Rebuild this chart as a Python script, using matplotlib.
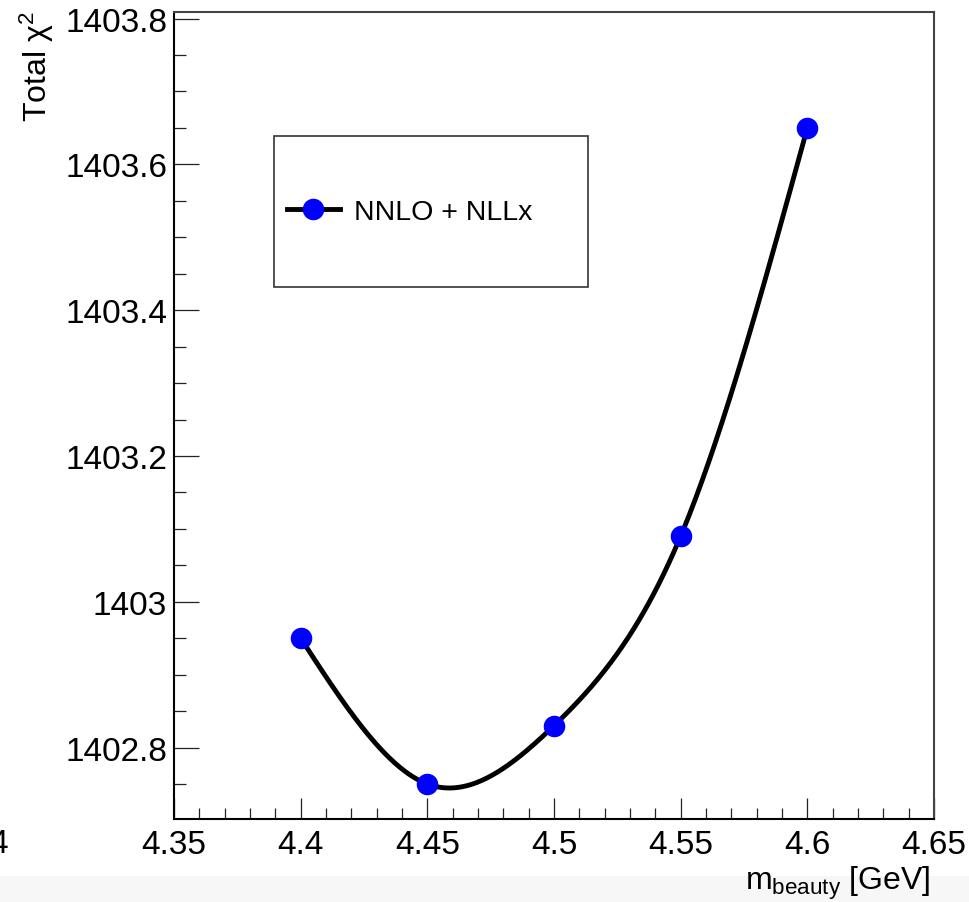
import numpy as np
import matplotlib
matplotlib.use("Agg")
import matplotlib.pyplot as plt
from matplotlib.patches import Rectangle
from matplotlib.ticker import MultipleLocator, FixedLocator

plt.rcParams['font.family'] = ['Liberation Sans', 'DejaVu Sans']
plt.rcParams['mathtext.fontset'] = 'custom'
plt.rcParams['mathtext.rm'] = 'Liberation Sans'
plt.rcParams['mathtext.it'] = 'Liberation Sans:italic'

# Scan of the beauty-quark mass and the resulting total chi^2
m_beauty = [4.40, 4.45, 4.50, 4.55, 4.60]
chi2_total = [1402.95, 1402.75, 1402.83, 1403.09, 1403.65]
series_label = "NNLO + NLLx"
x_ticks = [4.35, 4.40, 4.45, 4.50, 4.55, 4.60, 4.65]
x_tick_labels = ["4.35", "4.4", "4.45", "4.5", "4.55", "4.6", "4.65"]
y_ticks = [1402.8, 1403.0, 1403.2, 1403.4, 1403.6, 1403.8]
y_tick_labels = ["1402.8", "1403", "1403.2", "1403.4", "1403.6", "1403.8"]


def natural_spline(x, y, n=400):
    """Smooth curve through the points (natural cubic spline)."""
    x = np.asarray(x, float)
    y = np.asarray(y, float)
    k = len(x)
    h = np.diff(x)
    A = np.zeros((k, k))
    b = np.zeros(k)
    A[0, 0] = A[-1, -1] = 1.0
    for i in range(1, k - 1):
        A[i, i - 1] = h[i - 1]
        A[i, i] = 2 * (h[i - 1] + h[i])
        A[i, i + 1] = h[i]
        b[i] = 3 * ((y[i + 1] - y[i]) / h[i] - (y[i] - y[i - 1]) / h[i - 1])
    c = np.linalg.solve(A, b)
    xs = np.linspace(x[0], x[-1], n)
    idx = np.clip(np.searchsorted(x, xs) - 1, 0, k - 2)
    dx = xs - x[idx]
    bb = (y[idx + 1] - y[idx]) / h[idx] - h[idx] * (2 * c[idx] + c[idx + 1]) / 3
    dd = (c[idx + 1] - c[idx]) / (3 * h[idx])
    ys = y[idx] + bb * dx + c[idx] * dx ** 2 + dd * dx ** 3
    return xs, ys


fig = plt.figure(figsize=(9.70, 9.03), dpi=100)
fig.patch.set_facecolor('white')

# light strip along the bottom edge of the canvas
fig.patches.append(Rectangle((0, 0), 1, 26 / 903, transform=fig.transFigure,
                             facecolor='#f7f7f7', edgecolor='none', zorder=0))

ax = fig.add_axes([174 / 970, 1 - 820 / 903, (934 - 174) / 970, (820 - 13) / 903])
ax.set_xlim(4.35, 4.65)
ax.set_ylim(1402.702, 1403.809)

xs, ys = natural_spline(m_beauty, chi2_total)
ax.plot(xs, ys, color='black', lw=3.5, zorder=2)
ax.plot(m_beauty, chi2_total, linestyle='none', marker='o', ms=14.5,
        color='#0000ff', zorder=3)

# axis frame
for side in ['top', 'right']:
    ax.spines[side].set_color('#444444')
    ax.spines[side].set_linewidth(1.5)
for side in ['bottom', 'left']:
    ax.spines[side].set_color('black')
    ax.spines[side].set_linewidth(1.5)

ax.xaxis.set_major_locator(FixedLocator(x_ticks))
ax.set_xticklabels(x_tick_labels)
ax.xaxis.set_minor_locator(MultipleLocator(0.01))
ax.yaxis.set_major_locator(FixedLocator(y_ticks))
ax.set_yticklabels(y_tick_labels)
ax.yaxis.set_minor_locator(MultipleLocator(0.05))

ax.tick_params(axis='x', which='major', direction='in', length=15, width=0.9,
               labelsize=24, pad=7, top=False, colors='#222222', labelcolor='black')
ax.tick_params(axis='x', which='minor', direction='in', length=8, width=0.9,
               top=False, colors='#222222')
ax.tick_params(axis='y', which='major', direction='in', length=18, width=0.9,
               labelsize=24, pad=5, right=False, colors='#222222', labelcolor='black')
ax.tick_params(axis='y', which='minor', direction='in', length=8.5, width=0.9,
               right=False, colors='#222222')

# legend box
fig.patches.append(Rectangle((274 / 970, 1 - 288 / 903), (588 - 274) / 970,
                             (288 - 137) / 903, transform=fig.transFigure,
                             facecolor='white', edgecolor='#333333', lw=1.2, zorder=4))
leg_handle, = ax.plot([], [], color='black', lw=3.5, marker='o', ms=14.5,
                      markerfacecolor='#0000ff', markeredgecolor='#0000ff')
leg = fig.legend([leg_handle], [series_label], loc='center left',
                 bbox_to_anchor=(287 / 970, 1 - 213 / 903), frameon=False,
                 fontsize=20.5, handlelength=1.85, handletextpad=0.5,
                 borderpad=0, borderaxespad=0, numpoints=1)
leg.set_zorder(5)

# axis titles
fig.text(930 / 970, 1 - 890 / 903, r"m$_{\mathrm{beauty}}$ [GeV]",
         ha='right', va='baseline', fontsize=23)
fig.text(37 / 970, 1 - 11 / 903, r"Total χ$^{2}$", rotation=90,
         ha='center', va='top', fontsize=23)

# clipped label at the far left of the canvas
fig.text(8 / 970, 1 - 853 / 903, "4", ha='right', va='baseline', fontsize=24)

fig.savefig("out.png", dpi=100, facecolor=fig.get_facecolor())
